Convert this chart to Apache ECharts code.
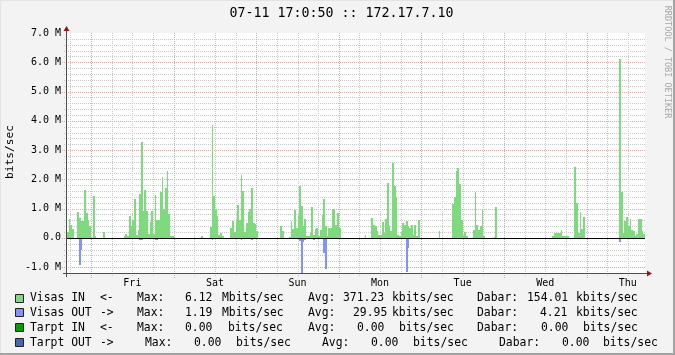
<!DOCTYPE html>
<html>
<head>
<meta charset="utf-8">
<script src="https://cdn.jsdelivr.net/npm/echarts@6/dist/echarts.min.js"></script>
<style>
html,body{margin:0;padding:0;background:#f3f3f3;}
#chart{width:675px;height:355px;}
</style>
</head>
<body>
<div id="chart"></div>
<script>
// ---------------- DATA ----------------
const chartTitle = '07-11 17:0:50 :: 172.17.7.10';
const watermark = 'RRDTOOL / TOBI OETIKER';
const unitLabel = 'bits/sec';
const dayLabels = ['Fri', 'Sat', 'Sun', 'Mon', 'Tue', 'Wed', 'Thu'];
const dayNoonHours = [19, 43, 67, 91, 115, 139, 163];      // hours after Thu 17:00
const dayMidnightHours = [7, 31, 55, 79, 103, 127, 151];
const totalHours = 168;
const stepHours = 0.5;                                     // 30-minute consolidation
const yTickValues = [-1, 0, 1, 2, 3, 4, 5, 6, 7];
const yTickLabels = ['-1.0 M', '0.0', '1.0 M', '2.0 M', '3.0 M', '4.0 M', '5.0 M', '6.0 M', '7.0 M'];

// Mbits/sec, one value per 30 minutes, starting Thu 17:00
const visasIn = [
  0.2,0.65,0.45,0.32,0,0,0.89,0.68,0.59,0.59,1.64,0.86,0.6,0.39,0,1.43,0.07,0,0,0,0,0.2,0,0,
  0,0,0,0,0,0,0,0,0,0.07,0.13,0.07,0.75,0.41,0.6,1.33,0.1,0.27,1.5,3.28,0.92,1.64,0.92,0.13,
  0.55,0.92,0.13,1.47,0.6,0.6,1.57,2.08,1.0,1.72,2.29,0.82,0.07,0.07,0,0,0,0,0,0,0,0,0,0,
  0,0,0,0,0,0,0.07,0,0,0,0,0.38,3.86,1.43,0.96,0.75,0.1,0.15,0.05,0,0,0,0,0.35,
  0.56,0.2,0.6,1.13,0.6,2.16,1.6,0.2,0.5,0.9,1.0,1.7,0.5,0.48,0.25,0,0,0,0,0,0,0,0,0,
  0,0,0,0,0.41,0.22,0,0,0,0.03,0.57,0.3,0.94,0.33,0.76,1.76,1.1,0.4,0.63,0.05,0.05,0.17,1.06,0.1,
  0.3,0.33,0.05,0.28,0.78,1.33,0.4,0.05,0.33,0.33,0.98,0.98,0.45,0.85,0.33,0,0,0,0,0,0,0,0,0,
  0,0,0,0,0,0.1,0,0,0,0.68,0.43,0.4,0.25,0.1,0.1,0.55,0.17,0.65,1.87,0.4,0.25,2.57,1.77,1.37,
  0.1,0.05,0.2,0.51,0.43,0.57,0.4,0.33,0.45,0.1,0.43,0.05,0.6,0,0,0,0,0,0,0,0,0,0,0,
  0.25,0,0,0,0,0,0,0,1.16,1.4,2.29,2.39,1.84,0.61,0.1,0.2,0.05,0,0,0,0.28,1.57,0.45,0.28,
  0.4,0.96,0.08,0,0,0,0,0,0.03,1.06,0,0,0,0,0,0,0,0,0,0,0,0,0,0,
  0,0,0,0,0,0,0,0,0,0,0,0,0,0,0,0,0,0,0.07,0.18,0.18,0.16,0.16,0.27,
  0.07,0.05,0.05,0.05,0,0,0,2.43,1.19,0.18,0.89,0.3,0.72,0,0,0,0,0,0,0,0,0,0,0,
  0,0,0,0,0,0,0,0,0,6.12,1.57,0.18,0.58,0.7,0.4,0.65,0.28,0.22,0.05,0.12,0.65,0.65,0.24,0.14
];
const visasOut = [
  0,0,0,0,0,0,-0.03,-0.92,-0.41,-0.05,0,0,0,0,0,-0.05,0,0,0,0,0,0,0,0,
  0,0,0,0,0,0,0,0,0,0,0,0,0,0,0,-0.03,0,0,-0.06,-0.08,0,-0.05,0,0,
  0,0,0,-0.08,-0.06,0,-0.05,-0.05,-0.05,-0.05,-0.05,0,0,0,0,0,0,0,0,0,0,0,0,0,
  0,0,0,0,0,0,0,0,0,0,0,0,-0.08,0,0,0,0,0,0,0,0,0,0,0,
  0,0,0,0,0,-0.06,-0.05,0,0,-0.05,-0.05,-0.06,-0.05,0,0,0,0,0,0,0,0,0,0,0,
  0,0,0,0,0,0,0,0,0,0,0,0,0,0,0,-0.1,-1.19,-0.15,-0.07,0,0,0,0,-0.07,
  0,0,0,0,0,-0.52,-1.06,0,0,0,0,0,0,0,0,0,0,0,0,0,0,0,0,0,
  0,0,0,0,0,0,0,0,0,0,0,0,0,0,0,0,0,0,-0.04,0,0,-0.05,-0.05,0,
  0,0,0,0,0,-1.15,-0.34,0,0,0,0,0,0,0,0,0,0,0,0,0,0,0,0,0,
  0,0,0,0,0,0,0,0,-0.05,-0.05,-0.05,-0.05,-0.05,0,0,0,0,0,0,0,0,-0.03,-0.03,-0.03,
  -0.03,-0.03,0,0,0,0,0,0,0,-0.05,0,0,0,0,0,0,0,0,0,0,0,0,0,0,
  0,0,0,0,0,0,0,0,0,0,0,0,0,0,0,0,0,0,0,0,0,0,0,0,
  0,0,0,0,0,0,0,-0.05,0,0,-0.05,0,0,0,0,0,0,0,0,0,0,0,0,0,
  0,0,0,0,0,0,0,0,0,-0.15,0,0,0,0,0,0,0,0,0,0,0,0,0,0
];

const legendNames = ['Visas IN', 'Visas OUT', 'Tarpt IN', 'Tarpt OUT'];
const legendArrows = ['<-', '->', '<-', '->'];
const legendMax = ['6.12', '1.19', '0.00', '0.00'];
const legendMaxUnit = ['Mbits/sec', 'Mbits/sec', 'bits/sec', 'bits/sec'];
const legendAvg = ['371.23', '29.95', '0.00', '0.00'];
const legendAvgUnit = ['kbits/sec', 'kbits/sec', 'bits/sec', 'bits/sec'];
const legendNow = ['154.01', '4.21', '0.00', '0.00'];
const legendNowUnit = ['kbits/sec', 'kbits/sec', 'bits/sec', 'bits/sec'];

// ---------------- STYLE / LAYOUT ----------------
const MONO = '"DejaVu Sans Mono", "Liberation Mono", monospace';
const COL_IN = '#7dda7d';
const COL_OUT = '#8191fd';
const LEGEND_COLORS = ['#7dda7d', '#8191fd', '#00a000', '#4466bb'];
const GRID_MINOR = '#c9c9c9';
const GRID_MAJOR = '#e8a3a3';
const AXIS_COL = '#4d4d4d';
const ARROW_COL = '#8c1c1c';

// legend column x positions (layout)
const legX = [
  [30, 100, 137, 185, 222, 308, 343, 392, 477, 527, 576],
  [30, 100, 137, 185, 222, 308, 353, 392, 477, 540, 576],
  [30, 100, 137, 185, 228, 308, 357, 399, 477, 541, 583],
  [30, 100, 145, 194, 236, 322, 371, 413, 499, 562, 603]
];
const legY0 = 298.5, legDY = 14.8;

function stepData(values) {
  return values.map((v, i) => [i * stepHours, v]);
}

function makeStepRenderer(color) {
  return function (params, api) {
    const t = api.value(0), v = api.value(1);
    if (!v) return null;
    const p0 = api.coord([t, 0]);
    const p1 = api.coord([t + stepHours, v]);
    const x0 = Math.round(p0[0]), x1 = Math.round(p1[0]);
    const y0 = Math.round(p0[1]), y1 = Math.round(p1[1]);
    return { type: 'rect', silent: true,
      shape: { x: x0, y: Math.min(y0, y1), width: Math.max(1, x1 - x0), height: Math.max(1, Math.abs(y1 - y0)) },
      style: { fill: color } };
  };
}

// grid line items: [value, kind] kind 0 minor-h, 1 major-h, 2 minor-v, 3 major-v
const gridItems = [];
for (let k = 1; k <= 40; k++) {
  const v = Math.round((-1.2 + k * 0.2) * 10) / 10;
  gridItems.push([v, yTickValues.indexOf(v) >= 0 ? 1 : 0]);
}
for (let t = 1; t < totalHours; t += 6) {
  gridItems.push([t, dayMidnightHours.indexOf(t) >= 0 ? 3 : 2]);
}

function renderGrid(params, api) {
  const cs = params.coordSys;
  const v = api.value(0), kind = api.value(1);
  const L = cs.x, R = cs.x + cs.width, T = cs.y, B = cs.y + cs.height;
  if (kind < 2) {
    const y = Math.round(api.coord([0, v])[1]) + 0.5;
    return { type: 'line', silent: true,
      shape: { x1: L - (kind ? 5 : 3), y1: y, x2: R, y2: y },
      style: { stroke: kind ? GRID_MAJOR : GRID_MINOR, lineWidth: 1, lineDash: [1, 1] } };
  }
  const x = Math.round(api.coord([v, 0])[0]) + 0.5;
  return { type: 'line', silent: true,
    shape: { x1: x, y1: T, x2: x, y2: B + (kind === 3 ? 5 : 3) },
    style: { stroke: kind === 3 ? GRID_MAJOR : GRID_MINOR, lineWidth: 1, lineDash: [1, 1] } };
}

function renderAxes(params, api) {
  const cs = params.coordSys;
  const L = cs.x, R = cs.x + cs.width, T = cs.y, B = cs.y + cs.height;
  const ax = Math.round(L) - 0.5, by = Math.round(B) + 0.5;
  const zy = Math.round(api.coord([0, 0])[1]) + 0.5;
  return { type: 'group', silent: true, children: [
    { type: 'line', shape: { x1: L, y1: zy, x2: R, y2: zy }, style: { stroke: '#000', lineWidth: 1 } },
    { type: 'line', shape: { x1: ax, y1: B + 4, x2: ax, y2: T - 3 }, style: { stroke: AXIS_COL, lineWidth: 1 } },
    { type: 'line', shape: { x1: L - 4, y1: by, x2: R + 3, y2: by }, style: { stroke: AXIS_COL, lineWidth: 1 } },
    { type: 'polygon', shape: { points: [[ax - 3, T - 2], [ax + 3, T - 2], [ax, T - 7]] }, style: { fill: ARROW_COL } },
    { type: 'polygon', shape: { points: [[R + 2, by - 3], [R + 2, by + 3], [R + 7, by]] }, style: { fill: ARROW_COL } }
  ] };
}

const graphics = [
  { type: 'rect', silent: true, shape: { x: 0, y: 0, width: 675, height: 1 }, style: { fill: '#e4e4e4' } },
  { type: 'rect', silent: true, shape: { x: 0, y: 0, width: 1, height: 355 }, style: { fill: '#e4e4e4' } },
  { type: 'rect', silent: true, shape: { x: 673, y: 0, width: 2, height: 355 }, style: { fill: '#a3a3a3' } },
  { type: 'rect', silent: true, shape: { x: 0, y: 353, width: 675, height: 2 }, style: { fill: '#a3a3a3' } },
  { type: 'text', x: 341.5, y: 14, style: { text: chartTitle, font: '13.3px ' + MONO, fill: '#000', align: 'center', verticalAlign: 'middle', textAlign: 'center', textVerticalAlign: 'middle' } },
  { type: 'text', x: 10, y: 152, rotation: Math.PI / 2, style: { text: unitLabel, font: '11.2px ' + MONO, fill: '#000', align: 'center', verticalAlign: 'middle', textAlign: 'center', textVerticalAlign: 'middle' } },
  { type: 'text', x: 667, y: 62, rotation: -Math.PI / 2, style: { text: watermark, font: '8.5px ' + MONO, fill: '#a8a8a8', align: 'center', verticalAlign: 'middle', textAlign: 'center', textVerticalAlign: 'middle' } }
];
for (let r = 0; r < 4; r++) {
  const cy = legY0 + r * legDY;
  graphics.push({ type: 'rect', silent: true, shape: { x: 15.5, y: Math.round(cy) - 4.5, width: 8, height: 8 },
    style: { fill: LEGEND_COLORS[r], stroke: '#222', lineWidth: 1 } });
  const pieces = [legendNames[r], legendArrows[r], 'Max:', legendMax[r], legendMaxUnit[r], 'Avg:', legendAvg[r], legendAvgUnit[r], 'Dabar:', legendNow[r], legendNowUnit[r]];
  pieces.forEach((txt, j) => {
    graphics.push({ type: 'text', silent: true, x: legX[r][j], y: cy,
      style: { text: txt, font: '11.4px ' + MONO, fill: '#000', align: 'left', verticalAlign: 'middle', textAlign: 'left', textVerticalAlign: 'middle' } });
  });
}

const chart = echarts.init(document.getElementById('chart'), null, { renderer: 'canvas' });
chart.setOption({
  animation: false,
  backgroundColor: '#f3f3f3',
  grid: { left: 67, top: 33, width: 578, height: 240, show: true, backgroundColor: '#ffffff', borderWidth: 0 },
  xAxis: {
    type: 'value', min: 0, max: totalHours,
    axisLine: { show: false }, axisTick: { show: false }, splitLine: { show: false },
    axisLabel: {
      customValues: dayNoonHours,
      formatter: (v) => { const i = dayNoonHours.indexOf(Math.round(v)); return i >= 0 ? dayLabels[i] : ''; },
      fontFamily: MONO, fontSize: 10, color: '#000', margin: 5
    }
  },
  yAxis: {
    type: 'value', min: -1.2, max: 7.0, interval: 0.2,
    axisLine: { show: false }, axisTick: { show: false }, splitLine: { show: false },
    axisLabel: {
      formatter: (v) => { const i = yTickValues.indexOf(Math.round(v * 10) / 10); return i >= 0 ? yTickLabels[i] : ''; },
      fontFamily: MONO, fontSize: 10, color: '#000', margin: 6
    }
  },
  graphic: graphics,
  series: [
    { type: 'custom', name: 'grid', coordinateSystem: 'cartesian2d', renderItem: renderGrid, data: gridItems, z: 1, silent: true, clip: false },
    { type: 'custom', name: 'Visas IN', coordinateSystem: 'cartesian2d', renderItem: makeStepRenderer(COL_IN), data: stepData(visasIn), z: 2, silent: true },
    { type: 'custom', name: 'Visas OUT', coordinateSystem: 'cartesian2d', renderItem: makeStepRenderer(COL_OUT), data: stepData(visasOut), z: 2, silent: true },
    { type: 'custom', name: 'axes', coordinateSystem: 'cartesian2d', renderItem: renderAxes, data: [[0, 0]], z: 5, silent: true, clip: false }
  ]
});
</script>
</body>
</html>
